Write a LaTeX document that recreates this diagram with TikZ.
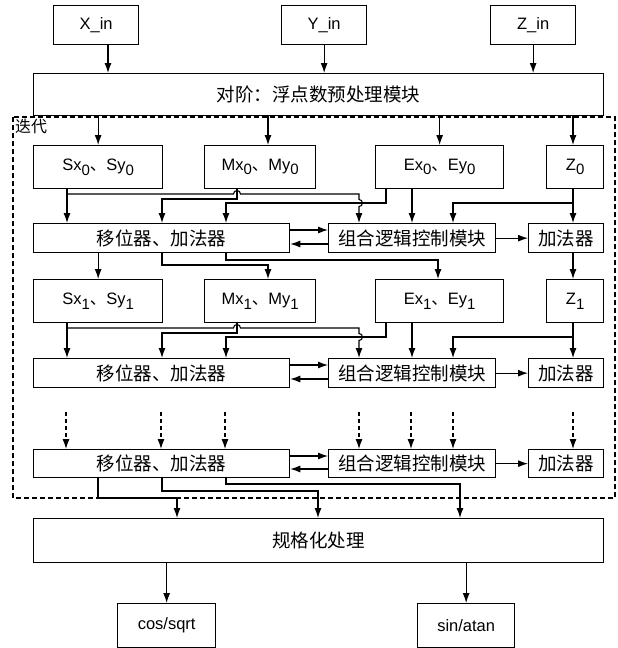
\documentclass[tikz,border=0pt]{standalone}
\usepackage{fontspec}
\setmainfont{Liberation Sans}
\newfontfamily\cjk{Noto Sans CJK SC}
\usetikzlibrary{arrows.meta}

\newcommand{\sub}[1]{\raisebox{-0.5ex}{\fontsize{15}{15}\selectfont #1}}
\newcommand{\dun}{{\cjk 、}}

\tikzset{
  box/.style={draw, line width=1.3pt, inner sep=0pt, anchor=north west, font=\fontsize{16.5}{16.5}\selectfont},
  hanzi/.style={font=\cjk\fontsize{18.5}{18.5}\selectfont},
  arr/.style={-{Latex[length=10pt,width=7pt]}, line width=1.1pt},
}

\begin{document}
\begin{tikzpicture}[x=1pt,y=-1pt]
    \useasboundingbox (0,0) rectangle (618,648);
    % inputs
    \node[box, minimum width=85pt, minimum height=39pt] (xin) at (53,5) {X\_in};
    \node[box, minimum width=85pt, minimum height=39pt] (yin) at (281,5) {Y\_in};
    \node[box, minimum width=85pt, minimum height=39pt] (zin) at (490,5) {Z\_in};
    \node[box, hanzi, minimum width=570pt, minimum height=42pt] (pre) at (33,73) {对阶：浮点数预处理模块};
    \draw[arr] (xin.south -| 108,0) -- (pre.north -| 108,0);
    \draw[arr] (yin) -- (pre.north -| yin);
    \draw[arr] (zin) -- (pre.north -| zin);
    % iteration frame
    \draw[line width=1.1pt, dash pattern=on 5pt off 3pt] (13,117) rectangle (615,498);
    \node[anchor=north west, inner sep=0pt, font=\cjk\fontsize{16}{16}\selectfont] (iter) at (15,119) {迭代};
    % two iterations
    \foreach \r/\t/\b in {0/145/223, 1/279/358} {
        \node[box, minimum width=129pt, minimum height=43pt] (sx\r) at (33,\t) {Sx\sub{\r}\dun Sy\sub{\r}};
        \node[box, minimum width=111pt, minimum height=43pt] (mx\r) at (204,\t) {Mx\sub{\r}\dun My\sub{\r}};
        \node[box, minimum width=128pt, minimum height=43pt] (ex\r) at (375,\t) {Ex\sub{\r}\dun Ey\sub{\r}};
        \node[box, minimum width=57pt, minimum height=43pt] (z\r) at (546,\t) {Z\sub{\r}};
        \node[box, hanzi, minimum width=256pt, minimum height=29pt] (sh\r) at (33,\b) {移位器、加法器};
        \node[box, hanzi, minimum width=167pt, minimum height=29pt] (cl\r) at (328,\b) {组合逻辑控制模块};
        \node[box, hanzi, minimum width=75pt, minimum height=29pt] (ad\r) at (528,\b) {加法器};
        \draw[arr] (sx\r.south -| 67,0) -- (sh\r.north -| 67,0);
        \draw[arr] (67,\t+49) -- (233.5,\t+49) arc[start angle=180, end angle=0, radius=3.5pt]
            -- (359,\t+49) -- (359,\t+54.5) arc[start angle=90, end angle=-90, radius=3.5pt]
            -- (cl\r.north -| 359,0);
        \draw[arr] (mx\r.south -| 237,0) -- (237,\t+54) -- (162,\t+54) -- (sh\r.north -| 162,0);
        \draw[arr] (ex\r.south -| 386,0) -- (386,\t+58) -- (226,\t+58) -- (sh\r.north -| 226,0);
        \draw[arr] (ex\r.south -| 412,0) -- (cl\r.north -| 412,0);
        \draw[arr] (z\r.south -| 573,0) -- (ad\r.north -| 573,0);
        \draw[arr] (573,\t+58) -- (453,\t+58) -- (cl\r.north -| 453,0);
        \draw[arr] ([yshift=-7pt]sh\r.north east) -- ([yshift=-7pt]cl\r.north west);
        \draw[arr] ([yshift=-21pt]cl\r.north west) -- ([yshift=-21pt]sh\r.north east);
        \draw[arr] (cl\r) -- (ad\r);
    }
    % iteration 0 -> 1
    \draw[arr] (sh0.south -| sx1) -- (sx1);
    \draw[arr] (sh0.south -| 162,0) -- (162,265) -- (268,265) -- (mx1.north -| 268,0);
    \draw[arr] (sh0.south -| 226,0) -- (226,260) -- (438,260) -- (ex1.north -| 438,0);
    \draw[arr] (ad0.south -| 573,0) -- (z1.north -| 573,0);
    % into iteration 0
    \draw[arr] (pre.south -| sx0) -- (sx0);
    \draw[arr] (pre.south -| 268,0) -- (mx0.north -| 268,0);
    \draw[arr] (pre.south -| ex0) -- (ex0);
    \draw[arr] (pre.south -| 573,0) -- (z0.north -| 573,0);
    % last iteration
    \node[box, hanzi, minimum width=256pt, minimum height=28pt] (sh2) at (33,449) {移位器、加法器};
    \node[box, hanzi, minimum width=167pt, minimum height=28pt] (cl2) at (328,449) {组合逻辑控制模块};
    \node[box, hanzi, minimum width=75pt, minimum height=28pt] (ad2) at (528,449) {加法器};
    \foreach \x/\n in {66/sh2, 161/sh2, 225/sh2, 359/cl2, 411/cl2, 453/cl2, 573/ad2}
        \draw[arr, dash pattern=on 4pt off 3pt] (\x,412) -- (\n.north -| \x,0);
    \draw[arr] ([yshift=-7pt]sh2.north east) -- ([yshift=-7pt]cl2.north west);
    \draw[arr] ([yshift=-20pt]cl2.north west) -- ([yshift=-20pt]sh2.north east);
    \draw[arr] (cl2) -- (ad2);
    % output
    \node[box, hanzi, minimum width=570pt, minimum height=44pt] (norm) at (33,518) {规格化处理};
    \draw[arr] (sh2.south -| 98,0) -- (98,498) -- (177,498) -- (norm.north -| 177,0);
    \draw[arr] (sh2.south -| 162,0) -- (162,491) -- (318,491) -- (norm.north -| 318,0);
    \draw[arr] (sh2.south -| 226,0) -- (226,484) -- (460,484) -- (norm.north -| 460,0);
    \node[box, minimum width=98pt, minimum height=44pt] (cos) at (117,603) {cos/sqrt};
    \node[box, minimum width=97pt, minimum height=44pt] (sin) at (417,603) {sin/atan};
    \draw[arr] (norm.south -| cos) -- (cos);
    \draw[arr] (norm.south -| sin) -- (sin);
\end{tikzpicture}
\end{document}
